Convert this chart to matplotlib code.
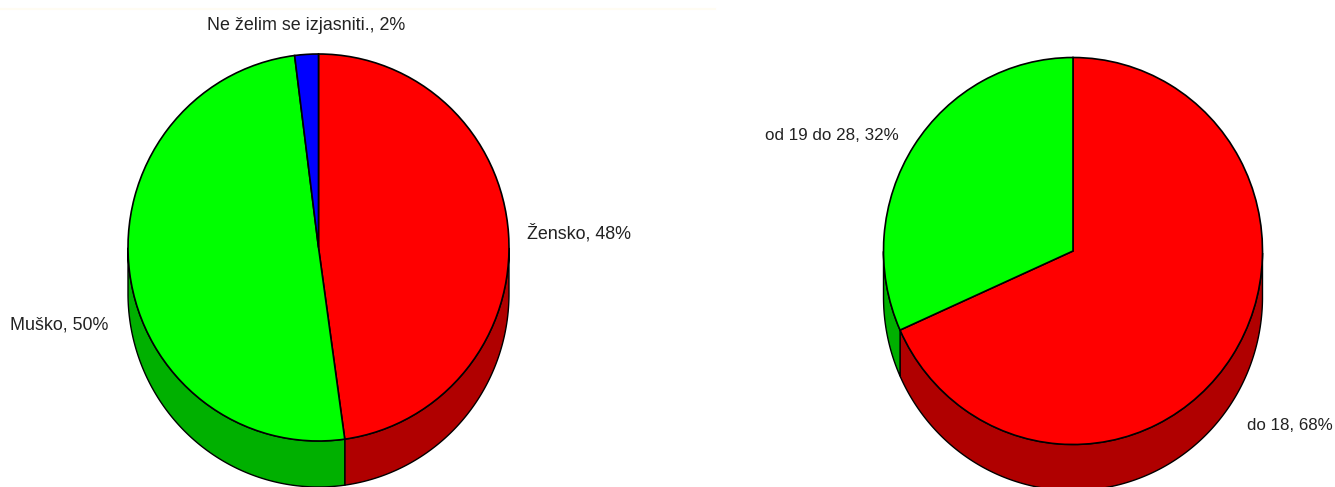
import numpy as np
import matplotlib
matplotlib.use("Agg")
import matplotlib.pyplot as plt
from matplotlib.lines import Line2D

plt.rcParams['font.family'] = ['Liberation Sans', 'DejaVu Sans']

# Data
gender_labels = ["Žensko", "Muško", "Ne želim se izjasniti."]
gender_values = [47.8, 50.2, 2.0]
gender_colors = ["#ff0000", "#00ff00", "#0000ff"]
gender_sides = ["#b00000", "#00b000", "#0000b0"]

age_labels = ["do 18", "od 19 do 28"]
age_values = [68.3, 31.7]
age_colors = ["#ff0000", "#00ff00"]
age_sides = ["#b00000", "#00b000"]

W, H = 1335, 487
fig = plt.figure(figsize=(W / 100, H / 100), dpi=100, facecolor="white")


def pie3d(values, colors, sides, cx, cy, rx, ry, depth):
    ax = fig.add_axes([(cx - rx) / W, 1 - (cy + ry) / H, 2 * rx / W, 2 * ry / H])
    d = depth / ry
    fracs = np.asarray(values, dtype=float) / np.sum(values)
    edges = np.pi / 2 - 2 * np.pi * np.concatenate([[0], np.cumsum(fracs)])
    # side wall: only the front (lower) half of the rim is visible
    for a0, a1, sc in zip(edges[:-1], edges[1:], sides):
        t = np.linspace(a0, a1, 400)
        t = t[np.sin(t) <= 0]
        if t.size < 2:
            continue
        xs = np.cos(t)
        top, bottom = np.sin(t), np.sin(t) - d
        ax.fill(np.r_[xs, xs[::-1]], np.r_[top, bottom[::-1]],
                facecolor=sc, edgecolor="black", linewidth=1.0,
                clip_on=False, zorder=1)
    ax.pie(values, colors=colors, startangle=90, counterclock=False,
           radius=1, wedgeprops=dict(edgecolor="black", linewidth=1.2, zorder=2))
    for p in ax.patches:
        p.set_clip_on(False)
    ax.set_aspect("auto")
    ax.set_xlim(-1, 1)
    ax.set_ylim(-1, 1)
    ax.axis("off")
    return ax


pie3d(gender_values, gender_colors, gender_sides, 318.5, 247.5, 190.5, 193.5, 46)
pie3d(age_values, age_colors, age_sides, 1073, 251, 189.5, 193.5, 46)

fig.add_artist(Line2D([0, 715 / W], [1 - 9 / H, 1 - 9 / H], color="#fffcf2", lw=1.5))

label_pos = [
    (f"{gender_labels[0]}, {gender_values[0]:.0f}%", 527, 233.5, 12.85),
    (f"{gender_labels[1]}, {gender_values[1]:.0f}%", 10, 324.5, 12.85),
    (f"{gender_labels[2]}, {gender_values[2]:.0f}%", 207, 25.5, 12.85),
    (f"{age_labels[0]}, {age_values[0]:.0f}%", 1247, 426, 12.2),
    (f"{age_labels[1]}, {age_values[1]:.0f}%", 765, 136, 12.25),
]
for s, x, y, fs in label_pos:
    fig.text(x / W, 1 - y / H, s, fontsize=fs, color="#222222", ha="left", va="center")

fig.savefig("out.png", dpi=100, facecolor="white")
